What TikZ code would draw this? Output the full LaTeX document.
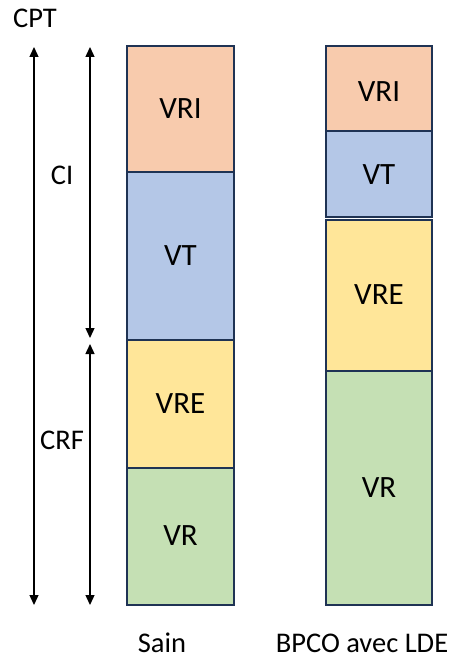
\documentclass[tikz,border=0pt]{standalone}
\usepackage{fontspec}
\setmainfont{Carlito}
\usetikzlibrary{arrows.meta}
\definecolor{cVRI}{HTML}{F8CBAD}
\definecolor{cVT}{HTML}{B4C7E7}
\definecolor{cVRE}{HTML}{FFE699}
\definecolor{cVR}{HTML}{C5E0B4}
\definecolor{edgec}{HTML}{1F3354}
\tikzset{
  seg/.style={draw=edgec, line width=2pt},
  segtext/.style={font=\fontsize{31}{36}\selectfont, text=black},
  lbl/.style={font=\fontsize{28.5}{33}\selectfont, text=black, inner sep=1pt},
  dimarrow/.style={line width=1.3pt, {Triangle[length=10pt,width=9pt]}-{Triangle[length=10pt,width=9pt]}},
}
\begin{document}
\begin{tikzpicture}[x=1pt,y=-1pt]
\useasboundingbox (0,0) rectangle (451,660);
% Sain column
\filldraw[seg, fill=cVRI] (127,46) rectangle (234,172);
\filldraw[seg, fill=cVT] (127,172) rectangle (234,340);
\filldraw[seg, fill=cVRE] (127,340) rectangle (234,468);
\filldraw[seg, fill=cVR] (127,468) rectangle (234,605);
\node[segtext] (s1) at (180.5,109) {VRI};
\node[segtext] (s2) at (180.5,256) {VT};
\node[segtext] (s3) at (180.5,404) {VRE};
\node[segtext] (s4) at (180.5,536) {VR};
% BPCO column
\filldraw[seg, fill=cVRI] (326,46) rectangle (432,131);
\filldraw[seg, fill=cVT] (326,131) rectangle (432,217);
\filldraw[seg, fill=cVRE] (326,220) rectangle (432,371);
\filldraw[seg, fill=cVR] (326,371) rectangle (432,605);
\node[segtext] (b1) at (379,92) {VRI};
\node[segtext] (b2) at (379,175) {VT};
\node[segtext] (b3) at (379,295) {VRE};
\node[segtext] (b4) at (379,488) {VR};
% dimension arrows
\coordinate (cptT) at (34,47);
\coordinate (cptB) at (34,605);
\coordinate (ciT) at (90,47);
\coordinate (ciB) at (90,338);
\coordinate (crfT) at (90,344);
\coordinate (crfB) at (90,605);
\draw[dimarrow] (cptT) -- (cptB);
\draw[dimarrow] (ciT) -- (ciB);
\draw[dimarrow] (crfT) -- (crfB);
\node[lbl] (cpt) at (35,18) {CPT};
\node[lbl] (ci) at (62,175) {CI};
\node[lbl] (crf) at (62,440) {CRF};
\node[lbl] (sain) at (162,643) {Sain};
\node[lbl] (bpco) at (362,643) {BPCO avec LDE};
\end{tikzpicture}
\end{document}
